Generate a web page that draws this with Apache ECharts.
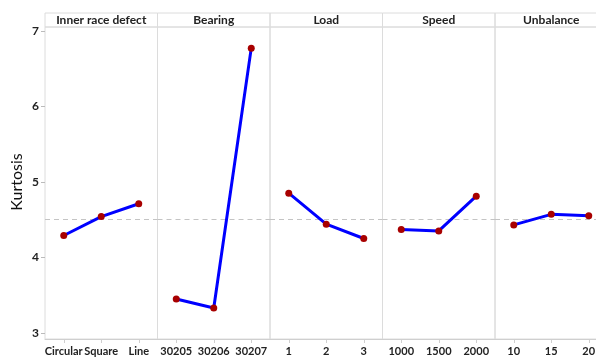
<!DOCTYPE html>
<html><head><meta charset="utf-8">
<script src="https://cdn.jsdelivr.net/npm/echarts@6/dist/echarts.min.js"></script>
<style>html,body{margin:0;padding:0;background:#fff}#c{width:596px;height:358px}</style>
</head><body><div id="c"></div>
<script>
const factors = ["Inner race defect", "Bearing", "Load", "Speed", "Unbalance"];
const levels = [
  ["Circular", "Square", "Line"],
  ["30205", "30206", "30207"],
  ["1", "2", "3"],
  ["1000", "1500", "2000"],
  ["10", "15", "20"]
];
const innerRace = [4.29, 4.54, 4.71];
const bearing = [3.45, 3.33, 6.77];
const load = [4.85, 4.44, 4.25];
const speed = [4.37, 4.35, 4.81];
const unbalance = [4.43, 4.57, 4.55];
const means = [innerRace, bearing, load, speed, unbalance];
const overallMean = 4.51;
const yTicks = [3, 4, 5, 6, 7];

const FONT = "Lato, 'Open Sans', sans-serif";
const PL = 45, PW = 112.5, TOP = 27, H = 312, HDR = 13;
const grid = [], xAxis = [], yAxis = [], series = [], title = [];
const borderC = '#dcdcdc';
function box(i, top, height) {
  return {left: PL + i * PW, top: top, width: PW, height: height, show: true,
    borderColor: borderC, borderWidth: 1, outerBoundsMode: 'none', containLabel: false};
}
for (let i = 0; i < 5; i++) {
  grid.push(box(i, TOP, H));
  xAxis.push({type: 'category', gridIndex: i, data: levels[i], boundaryGap: true,
    axisLine: {show: true, lineStyle: {color: '#cfcfcf'}},
    axisTick: {show: true, alignWithLabel: true, length: 4, lineStyle: {color: '#cfcfcf'}},
    axisLabel: {color: '#222', fontFamily: FONT, fontSize: 11, fontWeight: 'bold', margin: 7, interval: 0, hideOverlap: false}});
  yAxis.push({type: 'value', gridIndex: i, min: 2.92, max: 7.05, show: false, splitLine: {show: false}});
  series.push({type: 'line', xAxisIndex: i, yAxisIndex: i, data: means[i],
    symbol: 'circle', symbolSize: 7, itemStyle: {color: '#a80000'},
    lineStyle: {color: '#0000ff', width: 3}, z: 3,
    markLine: {silent: true, symbol: 'none', label: {show: false},
      lineStyle: {type: [5, 4], color: '#c4c4c4', width: 1}, data: [{yAxis: overallMean}], z: 1}});
  title.push({text: factors[i], left: PL + i * PW + PW / 2, top: HDR + 1, textAlign: 'center', padding: 0,
    textStyle: {fontFamily: FONT, fontSize: 12, fontWeight: 'bold', color: '#222', lineHeight: 13}});
}
for (let i = 0; i < 5; i++) {
  grid.push(box(i, HDR, TOP - HDR));
  xAxis.push({type: 'category', gridIndex: 5 + i, show: false, data: ['']});
  yAxis.push({type: 'value', gridIndex: 5 + i, show: false});
}
grid.push({left: PL, top: 31, width: 1, height: 302, show: false, outerBoundsMode: 'none'});
xAxis.push({type: 'value', gridIndex: 10, show: false});
yAxis.push({type: 'value', gridIndex: 10, min: yTicks[0], max: yTicks[yTicks.length - 1], interval: 1,
  axisLine: {show: false}, axisTick: {show: true, length: 4, lineStyle: {color: '#bbb'}},
  splitLine: {show: false},
  axisLabel: {color: '#222', fontFamily: FONT, fontSize: 12, fontWeight: 'bold', margin: 6},
  name: 'Kurtosis', nameLocation: 'middle', nameGap: 20, nameRotate: 90,
  nameTextStyle: {fontFamily: FONT, fontSize: 16, color: '#111', fontWeight: 'normal'}});

const chart = echarts.init(document.getElementById('c'));
chart.setOption({animation: false, backgroundColor: '#fff', title, grid, xAxis, yAxis, series});
</script></body></html>
